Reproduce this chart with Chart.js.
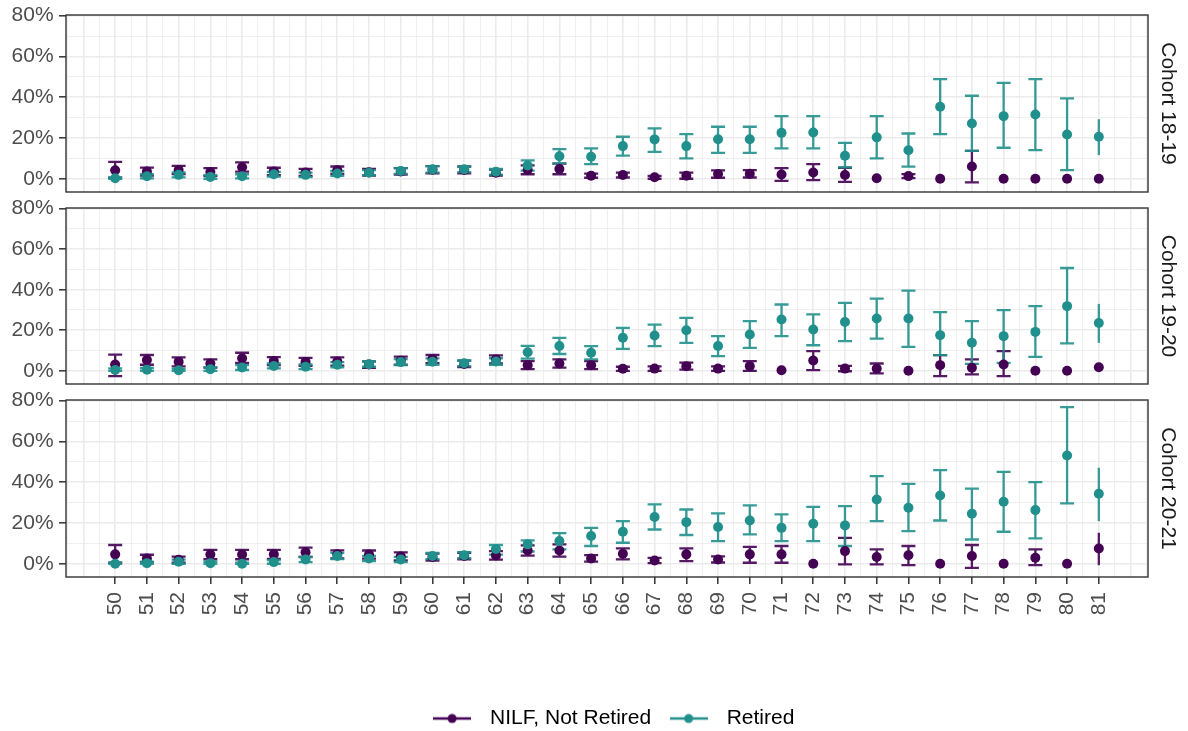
<!DOCTYPE html>
<html>
<head>
<meta charset="utf-8">
<script src="https://cdn.jsdelivr.net/npm/chart.js@4.4.1/dist/chart.umd.min.js"></script>
<style>
  html, body { margin: 0; padding: 0; background: #fff; overflow: hidden; }
  body { width: 1188px; height: 731px; position: relative; }
  .panel { position: absolute; left: 0; }
</style>
</head>
<body>
<div class="panel" style="top:-3px"><canvas id="c1" width="1219" height="213"></canvas></div>
<div class="panel" style="top:190px"><canvas id="c2" width="1219" height="212"></canvas></div>
<div class="panel" style="top:382px"><canvas id="c3" width="1219" height="357"></canvas></div>
<script>
// ages on the x axis
const ages = [50,51,52,53,54,55,56,57,58,59,60,61,62,63,64,65,66,67,68,69,70,71,72,73,74,75,76,77,78,79,80,81];
const yTicks = [0, 20, 40, 60, 80];
const yMinor = [10, 30, 50, 70];
const seriesNames = ["NILF, Not Retired", "Retired"];
const cohorts = ["Cohort 18-19", "Cohort 19-20", "Cohort 20-21"];

// Cohort 18-19
const nilf1819   = [4.2,3.5,4.3,3.3,5.6,3.6,3.1,4.2,3.2,3.6,4.4,4.3,3.0,4.4,4.8,1.5,1.8,0.7,1.5,2.3,2.4,2.1,3.1,1.8,0.2,1.3,0,6.0,0,0,0,0];
const nilf1819Lo = [0.5,1.5,2.3,1.4,3.5,1.8,1.4,2.4,1.6,2.0,2.6,2.6,1.5,2.2,2.2,0.5,0.6,0,0,0.5,0.6,-1.0,-0.7,-1.5,0.2,0.3,0,-1.8,0,0,0,0];
const nilf1819Hi = [8.3,5.5,6.3,5.2,8.0,5.4,4.8,6.0,4.8,5.2,6.2,6.0,4.5,6.6,7.4,2.5,3.0,1.4,3.0,4.1,4.2,5.2,7.2,5.4,0.2,2.3,0,13.7,0,0,0,0];
const ret1819    = [0.2,1.2,1.9,0.9,1.2,2.2,1.9,2.6,3.0,3.8,4.6,4.6,3.4,6.5,11.0,10.8,16.0,19.3,16.0,19.4,19.4,22.5,22.7,11.3,20.3,14.0,35.3,27.1,30.7,31.5,21.7,20.6];
const ret1819Lo  = [0,0.2,0.7,0,0.2,1.0,0.8,1.4,1.8,2.4,3.0,3.2,2.0,4.0,7.5,7.2,11.3,13.2,10.0,12.7,12.7,14.9,14.9,5.6,10.0,5.9,21.9,13.7,15.2,14.0,4.2,11.6];
const ret1819Hi  = [0.6,2.2,3.1,1.8,2.2,3.4,3.0,3.8,4.2,5.2,6.2,6.0,4.8,9.0,14.5,14.9,20.6,24.7,21.9,25.5,25.5,30.7,30.7,17.6,30.7,22.2,48.9,40.7,47.0,48.9,39.4,29.2];

// Cohort 19-20
const nilf1920   = [3.1,5.3,4.4,3.6,6.2,4.8,4.4,4.6,3.1,5.0,5.8,3.4,5.6,2.8,3.6,2.8,1.0,1.1,2.3,1.1,2.3,0.3,5.1,1.1,1.1,0,2.8,1.5,3.1,0,0,1.8];
const nilf1920Lo = [-2.6,3.0,2.2,1.6,3.9,2.8,2.4,2.6,1.5,3.0,3.8,1.8,3.6,0.8,1.6,0.8,0,0,0.6,0,0,0.3,0.3,-0.2,-1.3,0,-2.6,-1.8,-2.6,0,0,1.8];
const nilf1920Hi = [8.0,7.8,6.6,5.6,8.9,6.8,6.4,6.6,4.7,7.0,7.8,5.0,7.6,4.8,5.6,4.8,2.0,2.2,4.0,2.2,4.8,0.3,9.7,2.4,3.6,0,7.7,5.6,9.7,0,0,1.8];
const ret1920    = [0.4,0.5,0.3,0.8,1.6,2.4,2.0,3.0,3.3,4.3,4.5,3.7,4.6,9.2,12.2,8.9,16.3,17.4,20.0,12.2,17.9,25.3,20.4,24.1,25.8,25.8,17.6,13.8,17.1,19.2,31.9,23.6];
const ret1920Lo  = [0,0,0,0,0.4,1.2,0.8,1.7,2.0,2.8,2.9,2.3,3.0,6.0,8.3,5.6,10.8,12.2,13.8,7.2,11.3,17.1,12.6,14.6,15.9,11.8,7.7,3.4,3.9,6.9,13.5,13.8];
const ret1920Hi  = [1.2,1.4,1.0,1.8,2.8,3.6,3.2,4.3,4.6,5.8,6.1,5.1,6.2,12.3,16.2,12.2,21.2,22.8,26.1,17.1,24.5,32.7,27.8,33.5,35.6,39.6,28.9,24.5,29.9,31.9,50.7,33.0];

// Cohort 20-21
const nilf2021   = [4.6,2.6,2.0,4.5,4.5,4.6,5.6,4.6,4.5,3.6,3.3,3.8,4.1,6.5,6.5,2.6,4.9,1.6,4.6,2.1,4.6,4.6,0,6.2,3.3,4.2,0,3.8,0,2.9,0,7.5];
const nilf2021Lo = [0.5,0.8,0.5,2.2,2.2,2.4,3.3,2.6,2.5,1.6,1.6,2.2,2.0,4.0,3.5,1.0,2.1,0.3,1.3,0.6,0.5,0.5,0,-0.3,-0.3,-0.7,0,-2.0,0,-0.7,0,-0.7];
const nilf2021Hi = [9.2,4.4,3.5,6.8,6.8,6.8,7.9,6.6,6.5,5.6,5.0,5.4,6.2,9.0,9.5,4.2,7.5,2.9,7.5,3.6,8.3,8.7,0,12.7,7.0,8.7,0,9.2,0,7.0,0,15.2];
const ret2021    = [0,0.3,1.0,0.3,0,0.8,2.1,3.8,2.6,2.1,3.8,4.2,7.2,9.5,11.1,13.6,15.7,22.9,20.4,18.0,21.2,17.6,19.6,18.8,31.5,27.5,33.5,24.5,30.4,26.3,53.1,34.3];
const ret2021Lo  = [0,0,0,0,0,0,0.8,2.3,1.3,0.8,2.3,2.7,4.5,6.0,7.0,8.7,10.3,16.8,14.1,11.1,14.4,11.1,11.1,8.7,20.9,16.0,21.2,11.9,15.7,12.4,29.6,20.9];
const ret2021Hi  = [0.5,1.0,2.0,1.0,0.5,1.8,3.4,5.3,3.9,3.4,5.3,5.7,9.2,11.5,15.0,17.6,20.9,29.1,26.6,24.7,28.6,24.2,27.9,28.3,43.0,39.2,45.9,36.8,45.1,40.0,76.8,47.1];

const purple = "#440154";
const teal = "#21908C";
const tealBar = "rgba(33,144,140,0.9)";
const purpleBar = "rgba(68,1,84,0.9)";
const fontFamily = "'Liberation Sans', Arial, Helvetica, sans-serif";

Chart.defaults.font.family = fontFamily;
Chart.defaults.font.size = 21;

// grid breaks: every integer and half age, every 10%
const yMin = -6.5, yMax = 80.3;
const xGrid = [];
for (let v = 48.5; v <= 82.5; v += 0.5) xGrid.push(v);
const yGrid = [0, 10, 20, 30, 40, 50, 60, 70, 80];

function pts(vals, lo, hi) {
  return ages.map((a, i) => ({ x: a, y: vals[i], lo: lo[i], hi: hi[i] }));
}

function keyIcon(color) {
  const c = document.createElement("canvas");
  c.width = 38; c.height = 14;
  const g = c.getContext("2d");
  g.strokeStyle = color; g.lineWidth = 2.5;
  g.beginPath(); g.moveTo(0, 7); g.lineTo(38, 7); g.stroke();
  g.fillStyle = color;
  g.beginPath(); g.arc(19, 7, 4.5, 0, Math.PI * 2); g.fill();
  return c;
}

const errorBars = {
  id: "errorBars",
  beforeDatasetsDraw(chart) {
    const { ctx, scales: { x, y } } = chart;
    const last = ages[ages.length - 1];
    chart.data.datasets.forEach(ds => {
      ctx.save();
      ctx.strokeStyle = ds.barColor;
      ctx.lineWidth = 2.3;
      ds.data.forEach(p => {
        if (p.hi - p.lo < 0.01) return;
        const px = x.getPixelForValue(p.x);
        const y1 = y.getPixelForValue(p.lo);
        const y2 = y.getPixelForValue(p.hi);
        ctx.beginPath();
        ctx.moveTo(px, y1); ctx.lineTo(px, y2);
        if (p.x !== last) {
          ctx.moveTo(px - 7, y1); ctx.lineTo(px + 7, y1);
          ctx.moveTo(px - 7, y2); ctx.lineTo(px + 7, y2);
        }
        ctx.stroke();
      });
      ctx.restore();
    });
  }
};

const panelBorder = {
  id: "panelBorder",
  afterDatasetsDraw(chart) {
    const { ctx, chartArea: a } = chart;
    ctx.save();
    ctx.strokeStyle = "#333333";
    ctx.lineWidth = 1.4;
    ctx.strokeRect(a.left, a.top, a.right - a.left, a.bottom - a.top);
    ctx.restore();
  }
};

function makePanel(id, cohort, nilf, nilfLo, nilfHi, ret, retLo, retHi, isBottom) {
  return new Chart(document.getElementById(id), {
    type: "scatter",
    data: {
      datasets: [
        { label: seriesNames[0], data: pts(nilf, nilfLo, nilfHi), backgroundColor: purple, borderColor: purple,
          barColor: purpleBar, pointRadius: 5, pointBorderWidth: 0, order: 1 },
        { label: seriesNames[1], data: pts(ret, retLo, retHi), backgroundColor: teal, borderColor: teal,
          barColor: tealBar, pointRadius: 5, pointBorderWidth: 0, order: 0 }
      ]
    },
    options: {
      responsive: false,
      animation: false,
      layout: { padding: 0 },
      scales: {
        x: {
          type: "linear", min: 48.45, max: 82.55,
          afterBuildTicks: s => { s.ticks = xGrid.map(v => ({ value: v })); },
          afterFit: s => { s.height = isBottom ? 121 : 0; },
          border: { display: false },
          grid: {
            color: "#ebebeb",
            lineWidth: c => Number.isInteger(c.tick.value) ? 1.6 : 0.8,
            drawTicks: isBottom, tickLength: 7, tickWidth: 1.5,
            tickColor: c => ages.includes(c.tick.value) ? "#333333" : "rgba(0,0,0,0)"
          },
          ticks: {
            display: isBottom, autoSkip: false, minRotation: 90, maxRotation: 90, padding: 8,
            color: "#4d4d4d",
            callback: v => ages.includes(v) ? String(v) : ""
          }
        },
        y: {
          type: "linear", position: "left", min: yMin, max: yMax,
          afterBuildTicks: s => { s.ticks = yGrid.map(v => ({ value: v })); },
          afterFit: s => { s.width = 66; },
          border: { display: false },
          grid: {
            color: "#ebebeb",
            lineWidth: c => yTicks.includes(c.tick.value) ? 1.6 : 0.8,
            tickLength: 7, tickWidth: 1.5,
            tickColor: c => yTicks.includes(c.tick.value) ? "#333333" : "rgba(0,0,0,0)"
          },
          ticks: {
            autoSkip: false, padding: 5.4, color: "#4d4d4d",
            callback: v => yTicks.includes(v) ? v + "%" : ""
          }
        },
        strip: {
          type: "linear", position: "right", display: true,
          afterFit: s => { s.width = 71; },
          border: { display: false },
          grid: { display: false, drawTicks: false },
          ticks: { display: false },
          title: { display: true, text: cohort, color: "#1a1a1a", font: { size: 21 }, padding: { top: 39, bottom: 0 } }
        }
      },
      plugins: {
        tooltip: { enabled: false },
        legend: {
          display: isBottom,
          position: "bottom",
          align: "center",
          labels: {
            usePointStyle: true,
            pointStyleWidth: 55,
            padding: 10,
            color: "#000000",
            font: { size: 21 },
            generateLabels: chart => chart.data.datasets.map((d, i) => ({
              text: d.label,
              pointStyle: keyIcon(d.backgroundColor),
              fillStyle: d.backgroundColor,
              strokeStyle: d.backgroundColor,
              lineWidth: 0,
              hidden: false,
              datasetIndex: i
            }))
          }
        }
      }
    },
    plugins: [errorBars, panelBorder]
  });
}

makePanel("c1", cohorts[0], nilf1819, nilf1819Lo, nilf1819Hi, ret1819, ret1819Lo, ret1819Hi, false);
makePanel("c2", cohorts[1], nilf1920, nilf1920Lo, nilf1920Hi, ret1920, ret1920Lo, ret1920Hi, false);
makePanel("c3", cohorts[2], nilf2021, nilf2021Lo, nilf2021Hi, ret2021, ret2021Lo, ret2021Hi, true);
</script>
</body>
</html>
